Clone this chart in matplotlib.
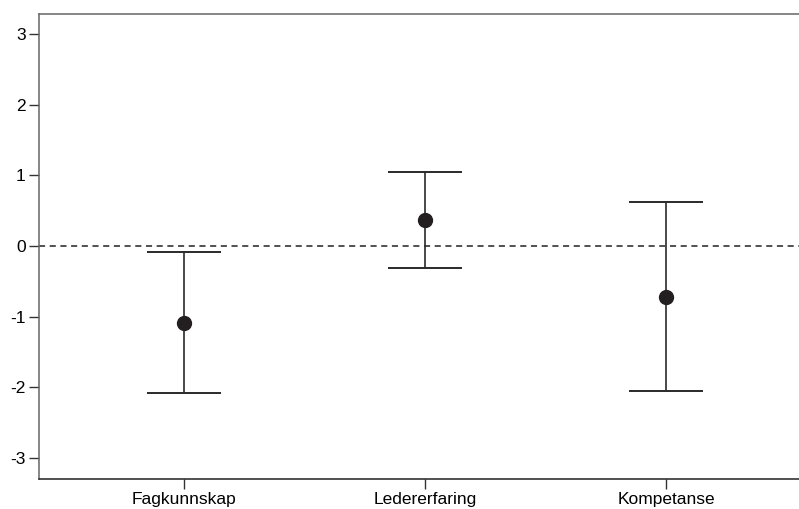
import matplotlib
matplotlib.use("Agg")
import matplotlib.pyplot as plt

categories = ["Fagkunnskap", "Ledererfaring", "Kompetanse"]
estimates = [-1.085, 0.368, -0.717]
upper = [-0.09, 1.047, 0.623]
lower = [-2.075, -0.307, -2.047]
yticks = [-3, -2, -1, 0, 1, 2, 3]

plt.rcParams['font.family'] = ['Liberation Sans', 'DejaVu Sans']

fig = plt.figure(figsize=(7.99, 5.09), dpi=100)
ax = fig.add_axes([39/799, (509-478.7)/509, (799-39)/799, (478.7-14)/509])

x = list(range(1, len(categories) + 1))
yerr_low = [e - l for e, l in zip(estimates, lower)]
yerr_high = [u - e for e, u in zip(estimates, upper)]

ax.axhline(0, color='#222222', linestyle=(0, (4, 3)), linewidth=1.1, zorder=1)
ax.errorbar(x, estimates, yerr=[yerr_low, yerr_high], fmt='o', color='#231f20',
            ecolor='#2a2a2a', elinewidth=1.2, capsize=26.3, capthick=1.4,
            markersize=10, zorder=3)

ax.set_xlim(0.399, 3.552)
ax.set_ylim(-3.293, 3.283)
ax.set_xticks(x)
ax.set_xticklabels(categories, fontsize=12.5)
ax.set_yticks(yticks)
ax.set_yticklabels([str(t) for t in yticks], fontsize=12.5)

ax.spines['right'].set_visible(False)
ax.spines['left'].set_color('#666666')
ax.spines['top'].set_color('#666666')
ax.spines['bottom'].set_color('#222222')
for s in ax.spines.values():
    s.set_linewidth(1.1)
ax.tick_params(axis='both', length=7, width=1.0, color='#333333', pad=2.5)

fig.savefig("out.png", dpi=100)
